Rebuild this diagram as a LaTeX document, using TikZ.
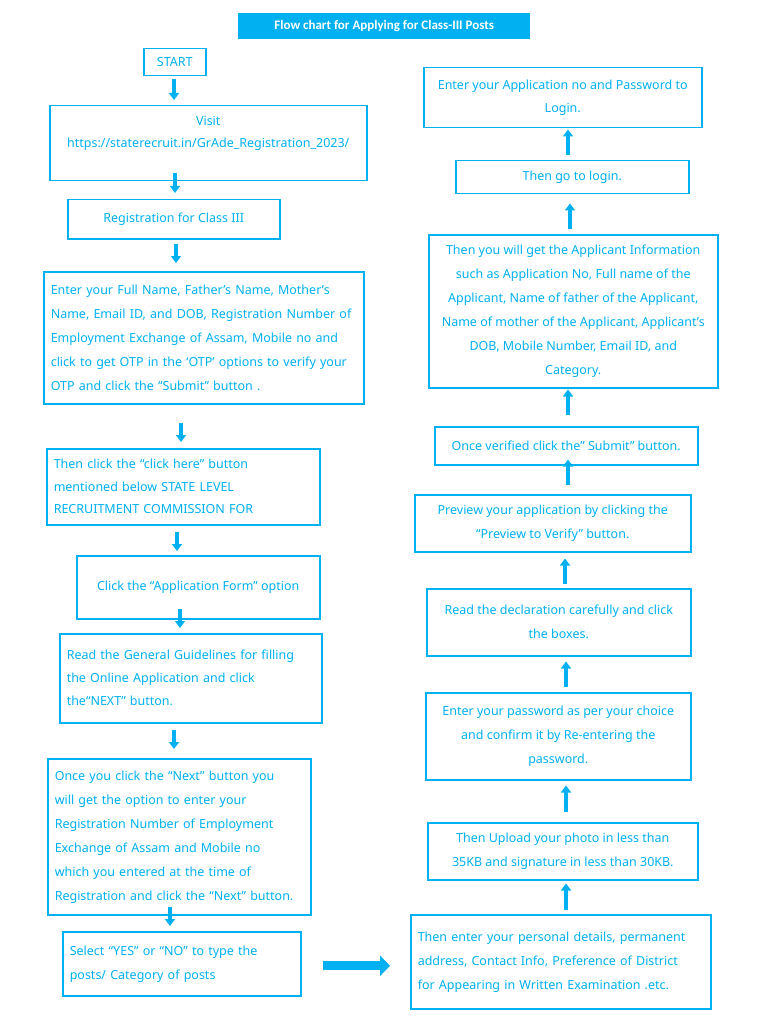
\documentclass[tikz,border=0pt]{standalone}
\usepackage{fontspec}
\setmainfont{Noto Sans}
\newfontfamily\titlefont{Carlito}
\usetikzlibrary{calc,arrows.meta}
\definecolor{skyblue}{HTML}{00B0F0}

\begin{document}
\begin{tikzpicture}[x=1pt, y=-1pt, every node/.style={font=\fontsize{12.5}{24}\selectfont, text=skyblue}]
\tikzset{
	stepbox/.style={draw=skyblue, line width=1.5pt, anchor=north west, inner xsep=10pt, inner ysep=0pt},
	leftbox/.style={stepbox, align=left, inner xsep=7pt},
	midbox/.style={stepbox, align=center},
	dnarrow/.style={draw=skyblue, line width=3.5pt, -{Triangle[width=10pt,length=7pt]}},
	bigarrow/.style={draw=skyblue, line width=9pt, -{Triangle[width=20pt,length=10pt]}}
}
\useasboundingbox (0,0) rectangle (768,1024);

% title bar
\node[fill=skyblue, anchor=north west, minimum width=292pt, minimum height=26pt, inner sep=0pt, text=white, font=\titlefont\bfseries\fontsize{13}{15}\selectfont] (title) at (238,13) {Flow chart for Applying for Class-III Posts};

% left column, going down
\node[midbox, minimum width=62pt, minimum height=27pt, inner xsep=0pt] (start) at (143,48) {START};
\node[midbox, minimum width=317pt, minimum height=75pt, font=\fontsize{12.5}{22}\selectfont] (visit) at (49,105) {Visit\\https://staterecruit.in/GrAde\_Registration\_2023/\\\mbox{}};
\node[midbox, minimum width=212pt, minimum height=39pt] (reg) at (67,199) {Registration for Class III};
\node[leftbox, minimum width=320pt, minimum height=132pt, text width=306pt] (full) at (43,271) {Enter your Full Name, Father’s Name, Mother’s\\Name, Email ID, and DOB, Registration Number of\\Employment Exchange of Assam, Mobile no and\\click to get OTP in the ‘OTP’ options to verify your\\OTP and click the “Submit” button .};
\node[leftbox, minimum width=273pt, minimum height=76pt, text width=259pt, font=\fontsize{12.5}{22.5}\selectfont] (then) at (46,448) {Then click the “click here” button\\mentioned below STATE LEVEL\\RECRUITMENT COMMISSION FOR};
\node[midbox, minimum width=243pt, minimum height=63pt] (app) at (76,555) {Click the “Application Form” option};
\node[leftbox, minimum width=262pt, minimum height=89pt, text width=248pt, font=\fontsize{12.5}{23}\selectfont] (read) at (59,633) {Read the General Guidelines for filling\\the Online Application and click\\the“NEXT” button.};
\node[leftbox, minimum width=263pt, minimum height=156pt, text width=249pt] (once) at (47,758) {Once you click the “Next” button you\\will get the option to enter your\\Registration Number of Employment\\Exchange of Assam and Mobile no\\which you entered at the time of\\Registration and click the “Next” button.};
\node[leftbox, minimum width=238pt, minimum height=64pt, text width=224pt] (select) at (62,931) {Select “YES” or “NO” to type the\\posts/ Category of posts};

% right column, going up
\node[leftbox, minimum width=300pt, minimum height=94pt, text width=286pt] (details) at (410,914) {Then enter your personal details, permanent\\address, Contact Info, Preference of District\\for Appearing in Written Examination .etc.};
\node[midbox, minimum width=270pt, minimum height=57pt] (upload) at (427,822) {Then Upload your photo in less than\\35KB and signature in less than 30KB.};
\node[midbox, minimum width=265pt, minimum height=87pt] (password) at (425,692) {Enter your password as per your choice\\and confirm it by Re-entering the\\password.};
\node[midbox, minimum width=264pt, minimum height=67pt] (declar) at (426,588) {Read the declaration carefully and click\\the boxes.};
\node[midbox, minimum width=276pt, minimum height=57pt] (preview) at (414,494) {Preview your application by clicking the\\“Preview to Verify” button.};
\node[midbox, minimum width=263pt, minimum height=38pt] (verified) at (434,426) {Once verified click the” Submit” button.};
\node[midbox, minimum width=289pt, minimum height=153pt] (info) at (428,234) {Then you will get the Applicant Information\\such as Application No, Full name of the\\Applicant, Name of father of the Applicant,\\Name of mother of the Applicant, Applicant’s\\DOB, Mobile Number, Email ID, and\\Category.};
\node[midbox, minimum width=233pt, minimum height=33pt] (login) at (455,160) {Then go to login.};
\node[midbox, minimum width=278pt, minimum height=60pt, font=\fontsize{12.5}{23}\selectfont] (appno) at (423,67) {Enter your Application no and Password to\\Login.};

% arrows down the left side
\foreach \a/\b/\x/\s/\e in {start/visit/174/3/5, visit/reg/175/-8/6, reg/full/176/4/8, full/then/181/18/6, then/app/177/6/4, app/read/180/-11/5, read/once/174/6/9, once/select/170/-9/5}
	\draw[dnarrow] ($(\x,0 |- \a.south)+(0,\s)$) -- ($(\x,0 |- \b.north)+(0,-\e)$);
% arrows up the right side
\foreach \a/\b/\x/\s/\e in {details/upload/566/4/3, upload/password/566/10/5, password/declar/566/5/5, declar/preview/565/4/6, preview/verified/568/9/-6, verified/info/568/11/1, info/login/570/5/9, login/appno/568/5/1}
	\draw[dnarrow] ($(\x,0 |- \a.north)+(0,-\s)$) -- ($(\x,0 |- \b.south)+(0,\e)$);
% across the bottom
\draw[bigarrow] ([xshift=21pt,yshift=-2pt]select.east) -- ([xshift=-20pt,yshift=-2pt]select.east -| details.west);
\end{tikzpicture}
\end{document}
